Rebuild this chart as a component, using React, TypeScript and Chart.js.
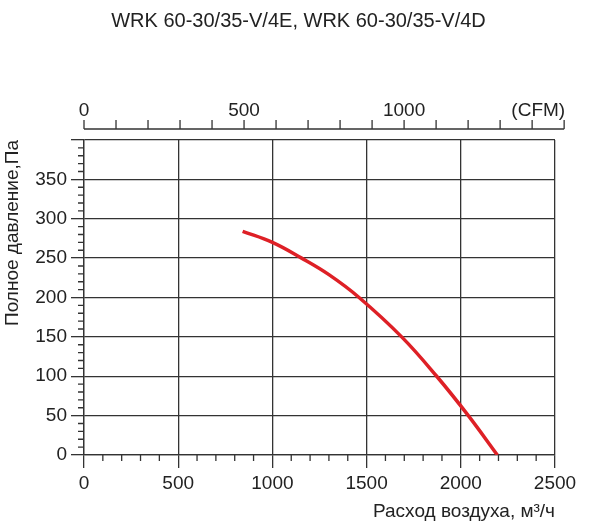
import React, { useEffect, useRef } from "react";
import { Chart, registerables } from "chart.js";

Chart.register(...registerables);

// curve
const flow = [842, 1000, 1155, 1300, 1460, 1686, 1872, 2040, 2194]; // m3/h
const pressure = [284, 270, 250, 229, 200, 150, 100, 50, 0]; // Pa

const cfmTicks = [0, 100, 200, 300, 400, 500, 600, 700, 800, 900, 1000, 1100, 1200, 1300, 1400, 1500];
const cfmLabels = [0, 500, 1000];
const CFM_PER_M3H = 0.588578;

const FONT = "'Liberation Sans', Arial, sans-serif";
const LINE = "#333";
const TEXT = "#222";

const extraAxes = {
  id: "extraAxes",
  afterDraw(chart) {
    const { ctx, chartArea } = chart;
    const x = chart.scales.x;
    const y = chart.scales.y;
    ctx.save();
    ctx.strokeStyle = LINE;
    ctx.lineWidth = 1.3;

    // minor ticks on the bottom and left axes
    ctx.beginPath();
    x.ticks.forEach((t) => {
      if (t.value % 500 !== 0) {
        const px = x.getPixelForValue(t.value);
        ctx.moveTo(px, chartArea.bottom);
        ctx.lineTo(px, chartArea.bottom + 6);
      }
    });
    y.ticks.forEach((t) => {
      if (t.value % 50 !== 0) {
        const py = y.getPixelForValue(t.value);
        ctx.moveTo(chartArea.left - 6, py);
        ctx.lineTo(chartArea.left, py);
      }
    });
    ctx.stroke();

    // CFM axis above the plot
    const yLine = chartArea.top - 11;
    const cx = (cfm) => x.getPixelForValue(cfm / CFM_PER_M3H);
    ctx.beginPath();
    ctx.moveTo(cx(cfmTicks[0]), yLine);
    ctx.lineTo(cx(cfmTicks[cfmTicks.length - 1]), yLine);
    cfmTicks.forEach((v) => {
      ctx.moveTo(cx(v), yLine);
      ctx.lineTo(cx(v), yLine - 9);
    });
    ctx.stroke();

    ctx.fillStyle = TEXT;
    ctx.font = `19px ${FONT}`;
    ctx.textBaseline = "alphabetic";
    ctx.textAlign = "center";
    cfmLabels.forEach((v) => ctx.fillText(String(v), cx(v), yLine - 13.5));
    ctx.textAlign = "right";
    ctx.fillText("(CFM)", cx(cfmTicks[cfmTicks.length - 1]) + 1, yLine - 13.5);
    ctx.restore();
  },
};

const App = () => {
  const canvasRef = useRef(null);
  const chartRef = useRef(null);

  useEffect(() => {
    document.body.style.margin = "0";
    if (chartRef.current) chartRef.current.destroy();

    chartRef.current = new Chart(canvasRef.current.getContext("2d"), {
      type: "line",
      data: {
        datasets: [
          {
            data: flow.map((f, i) => ({ x: f, y: pressure[i] })),
            borderColor: "rgb(222, 32, 38)",
            borderWidth: 3.5,
            pointRadius: 0,
            tension: 0.4,
            fill: false,
          },
        ],
      },
      options: {
        responsive: false,
        animation: false,
        layout: { padding: 0 },
        plugins: {
          legend: { display: false },
          tooltip: { enabled: false },
          title: {
            display: true,
            text: "WRK 60-30/35-V/4E, WRK 60-30/35-V/4D",
            font: { size: 20, family: FONT, weight: "normal" },
            color: TEXT,
            padding: { top: 9, bottom: 107 },
          },
        },
        scales: {
          x: {
            type: "linear",
            min: 0,
            max: 2500,
            afterFit: (s) => {
              s.height = 66;
            },
            ticks: {
              stepSize: 100,
              autoSkip: false,
              maxRotation: 0,
              padding: 4,
              color: TEXT,
              font: { size: 19, family: FONT },
              callback: (v) => (v % 500 === 0 ? String(v) : ""),
            },
            grid: {
              color: (c) => (c.tick && c.tick.value % 500 === 0 ? LINE : "transparent"),
              tickColor: (c) => (c.tick && c.tick.value % 500 === 0 ? LINE : "transparent"),
              lineWidth: 1.3,
              tickLength: 13,
            },
            border: { color: LINE, width: 1.3 },
            title: {
              display: true,
              text: "Расход воздуха, м³/ч",
              align: "end",
              color: TEXT,
              font: { size: 19, family: FONT, lineHeight: 1.0 },
              padding: { top: 0, bottom: 0 },
            },
          },
          y: {
            min: 0,
            max: 400,
            afterFit: (s) => {
              s.width = 84;
            },
            ticks: {
              stepSize: 10,
              autoSkip: false,
              padding: 4,
              color: TEXT,
              font: { size: 19, family: FONT },
              callback: (v) => (v % 50 === 0 && v < 400 ? String(v) : ""),
            },
            grid: {
              color: (c) => (c.tick && c.tick.value % 50 === 0 ? LINE : "transparent"),
              tickColor: (c) => (c.tick && c.tick.value % 50 === 0 ? LINE : "transparent"),
              lineWidth: 1.3,
              tickLength: 13,
            },
            border: { color: LINE, width: 1.3 },
            title: {
              display: true,
              text: "Полное давление,Па",
              align: "end",
              color: TEXT,
              font: { size: 19, family: FONT },
              padding: { top: 1, bottom: 0 },
            },
          },
          // empty right-hand axis, only reserves the margin
          yRight: {
            position: "right",
            min: 0,
            max: 400,
            afterFit: (s) => {
              s.width = 42;
            },
            ticks: { display: false },
            grid: { display: false },
            border: { display: false },
          },
        },
      },
      plugins: [extraAxes],
    });

    return () => {
      if (chartRef.current) {
        chartRef.current.destroy();
        chartRef.current = null;
      }
    };
  }, []);

  return (
    <div style={{ width: 597, height: 521 }}>
      <canvas ref={canvasRef} width={597} height={521} />
    </div>
  );
};

export default App;
